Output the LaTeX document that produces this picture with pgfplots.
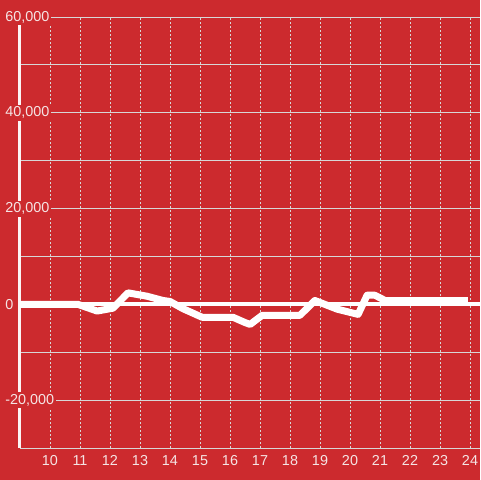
\documentclass[border=0pt]{standalone}
\usepackage{fontspec}
\setmainfont{Liberation Sans}
\usepackage{pgfplots}
\pgfplotsset{compat=1.18}
\definecolor{bgred}{RGB}{204,42,46}
\definecolor{txt}{RGB}{245,228,228}
\definecolor{gridc}{RGB}{215,215,215}

\begin{document}
\begin{tikzpicture}
\fill[bgred] (0,0) rectangle (360pt,360pt);
\begin{axis}[
  at={(15pt,24pt)}, anchor=south west,
  scale only axis, width=345pt, height=323.25pt,
  xmin=9, xmax=24.333, ymin=-30000, ymax=60000,
  axis lines*=left,
  x axis line style={gridc, line width=0.75pt, -},
  y axis line style={white!95!bgred, line width=2.25pt, -},
  major tick length=0pt, minor tick length=0pt,
  scaled y ticks=false, scaled x ticks=false,
  xtick={10,...,24},
  ytick={-20000,0,20000,40000,60000},
  yticklabels={{-20,000},{0},{20,000},{40,000},{60,000}},
  minor ytick={-10000,10000,30000,50000},
  xmajorgrids, ymajorgrids, yminorgrids,
  x grid style={gridc, line width=0.75pt, dash pattern=on 1.5pt off 1.5pt},
  y grid style={gridc, line width=0.75pt},
  minor y grid style={gridc, line width=0.75pt},
  /pgf/number format/assume math mode=true,
  ticklabel style={font=\fontsize{10.8}{12}\selectfont, text=txt},
  yticklabel style={anchor=west, fill=bgred, inner sep=1.5pt, xshift=-12.75pt},
  xticklabel style={anchor=north, inner sep=0pt, yshift=-5.25pt},
  clip=false,
]
% zero line
\addplot[white, line width=3pt] coordinates {(9,0) (24.333,0)};
\addplot[white, line width=5.25pt, line join=round] coordinates {
  (9,0) (10.93,0) (11.57,-1400) (12.1,-800) (12.6,2400) (13.23,1700)
  (13.77,800) (14,600) (14.43,-900) (15.07,-2700) (16.1,-2700)
  (16.5,-3800) (16.67,-4200) (17.07,-2300) (18.33,-2300) (18.83,800)
  (19.57,-1000) (20.27,-2100) (20.57,1900) (20.83,1900) (21.17,800)
  (23.93,800)
};
\end{axis}
\pgfresetboundingbox
\useasboundingbox (0,0) rectangle (360pt,360pt);
\end{tikzpicture}
\end{document}
